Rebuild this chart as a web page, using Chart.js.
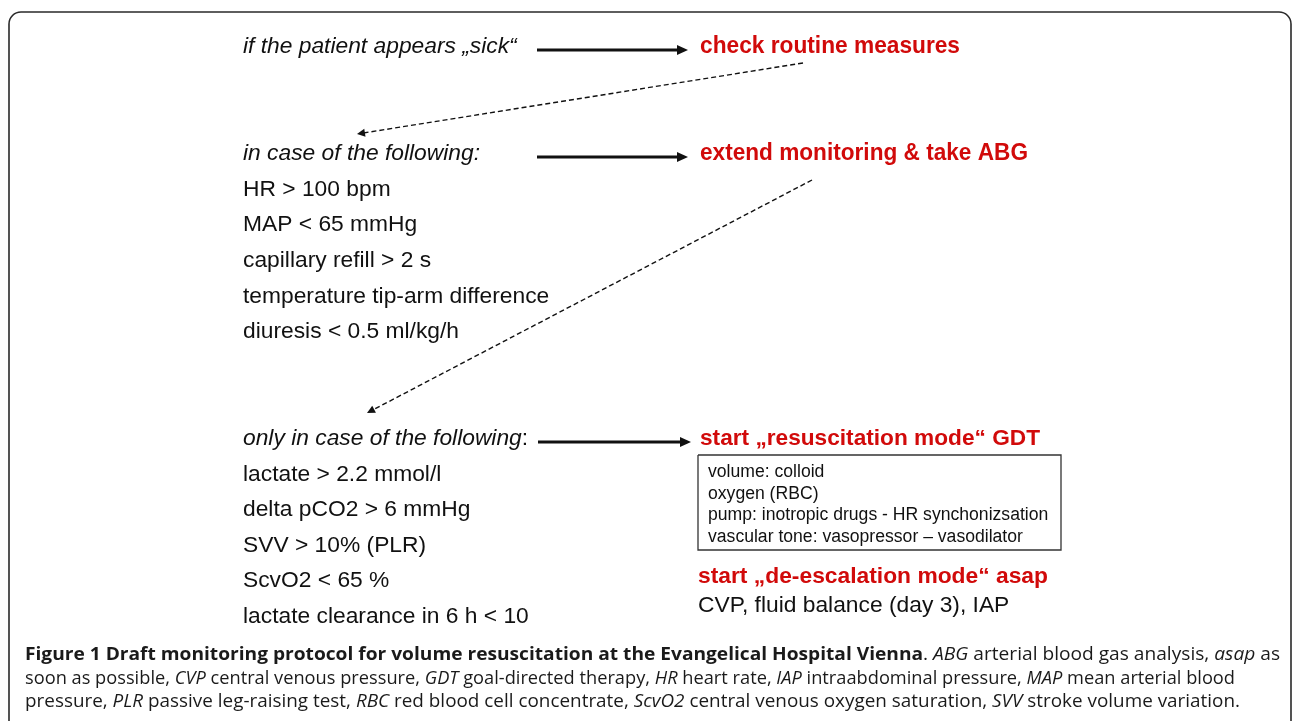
<!DOCTYPE html>
<html>
<head>
<meta charset="utf-8">
<script src="https://cdn.jsdelivr.net/npm/chart.js@4.4.1/dist/chart.umd.min.js"></script>
<style>
  html, body { margin: 0; padding: 0; background: #ffffff; }
  #wrap { width: 1292px; height: 721px; }
</style>
</head>
<body>
<div id="wrap"><canvas id="c" width="1292" height="721"></canvas></div>
<script>
// ---------------- content ----------------
const triggerLabels = ['if the patient appears \u201Esick\u201C', 'in case of the following:', 'only in case of the following'];
const actionLabels = ['check routine measures', 'extend monitoring & take ABG', 'start \u201Eresuscitation mode\u201C GDT'];
const clinicalSigns = ['HR > 100 bpm', 'MAP < 65 mmHg', 'capillary refill > 2 s', 'temperature tip-arm difference', 'diuresis < 0.5 ml/kg/h'];
const laboratorySigns = ['lactate > 2.2 mmol/l', 'delta pCO2 > 6 mmHg', 'SVV > 10% (PLR)', 'ScvO2 < 65 %', 'lactate clearance in 6 h < 10'];
const gdtTargets = ['volume: colloid', 'oxygen (RBC)', 'pump: inotropic drugs - HR synchonizsation', 'vascular tone: vasopressor \u2013 vasodilator'];
const deescalationLabel = 'start \u201Ede-escalation mode\u201C asap';
const deescalationTargets = 'CVP, fluid balance (day 3), IAP';
const captionLine1 = [['b', 'Figure 1 Draft monitoring protocol for volume resuscitation at the Evangelical Hospital Vienna'], ['r', '. '], ['i', 'ABG'], ['r', ' arterial blood gas analysis, '], ['i', 'asap'], ['r', ' as']];
const captionLine2 = [['r', 'soon as possible, '], ['i', 'CVP'], ['r', ' central venous pressure, '], ['i', 'GDT'], ['r', ' goal-directed therapy, '], ['i', 'HR'], ['r', ' heart rate, '], ['i', 'IAP'], ['r', ' intraabdominal pressure, '], ['i', 'MAP'], ['r', ' mean arterial blood']];
const captionLine3 = [['r', 'pressure, '], ['i', 'PLR'], ['r', ' passive leg-raising test, '], ['i', 'RBC'], ['r', ' red blood cell concentrate, '], ['i', 'ScvO2'], ['r', ' central venous oxygen saturation, '], ['i', 'SVV'], ['r', ' stroke volume variation.']];

// ---------------- layout (page units = pixels of the 1292 x 721 figure) ----------------
const L = {
  leftX: 243, rightX: 700,
  rowBaselines: [53, 160, 445],
  clinicalBaselines: [196, 231, 267, 303, 338],
  labBaselines: [481, 516, 552, 587, 623],
  actionWidths: [260, 328, 340],
  actionSizes: [24, 24, 22],
  solidArrows: [[537, 50, 688, 50], [537, 157, 688, 157], [538, 442, 691, 442]],
  dashedArrows: [[803, 63, 357, 134], [812, 180, 367, 413]],
  box: [698, 455, 1061, 550],
  boxTextX: 708, boxBaselines: [477, 498.5, 520, 541.5],
  deescX: 698, deescBaseline: 583, deescWidth: 350,
  cvpBaseline: 612,
  captionX: 25, captionBaselines: [660, 683.5, 707], captionEnds: [1280, 1235, 1240],
  frame: [9, 12, 1291, 760, 12]
};
const MAIN = '"Liberation Sans", Arial, sans-serif';
const CAP = '"Open Sans", "Noto Sans", sans-serif';
const RED = '#d10a0a';
const INK = '#111111';

function line(x1, y1, x2, y2, dashed) {
  return { type: 'line', data: [{ x: x1, y: y1 }, { x: x2, y: y2 }], borderColor: INK,
    borderWidth: dashed ? 1.4 : 3, borderDash: dashed ? [5, 3] : [], pointRadius: 0, fill: false, tension: 0 };
}
function shorten(a, len) {
  const dx = a[2] - a[0], dy = a[3] - a[1], d = Math.hypot(dx, dy);
  return [a[2] - dx / d * len, a[3] - dy / d * len];
}
const datasets = [];
L.solidArrows.forEach(a => { const e = shorten(a, 8); datasets.push(line(a[0], a[1], e[0], e[1], false)); });
L.dashedArrows.forEach(a => { const e = shorten(a, 5); datasets.push(line(a[0], a[1], e[0], e[1], true)); });
const b = L.box;
datasets.push({ type: 'line', data: [{x:b[0],y:b[1]},{x:b[2],y:b[1]},{x:b[2],y:b[3]},{x:b[0],y:b[3]},{x:b[0],y:b[1]}],
  borderColor: '#333', borderWidth: 1.3, pointRadius: 0, fill: false, tension: 0 });

const flowPlugin = {
  id: 'flow',
  beforeDraw(chart) {
    const ctx = chart.ctx;
    ctx.save(); ctx.fillStyle = '#fff'; ctx.fillRect(0, 0, chart.width, chart.height); ctx.restore();
    const X = v => chart.scales.x.getPixelForValue(v), Y = v => chart.scales.y.getPixelForValue(v);
    const f = L.frame;
    ctx.save();
    ctx.strokeStyle = '#2a2a2a'; ctx.lineWidth = 1.6;
    ctx.beginPath();
    ctx.roundRect(X(f[0]), Y(f[1]), X(f[2]) - X(f[0]), Y(f[3]) - Y(f[1]), f[4]);
    ctx.stroke();
    ctx.restore();
  },
  afterDatasetsDraw(chart) {
    const ctx = chart.ctx;
    const X = v => chart.scales.x.getPixelForValue(v), Y = v => chart.scales.y.getPixelForValue(v);
    function head(a, len, half) {
      const tx = X(a[2]), ty = Y(a[3]), sx = X(a[0]), sy = Y(a[1]);
      const dx = tx - sx, dy = ty - sy, d = Math.hypot(dx, dy), ux = dx / d, uy = dy / d;
      const bx = tx - ux * len, by = ty - uy * len;
      ctx.beginPath();
      ctx.moveTo(tx, ty);
      ctx.lineTo(bx - uy * half, by + ux * half);
      ctx.lineTo(bx + uy * half, by - ux * half);
      ctx.closePath(); ctx.fillStyle = INK; ctx.fill();
    }
    L.solidArrows.forEach(a => head(a, 11, 5));
    L.dashedArrows.forEach(a => head(a, 8, 4));

    function text(str, x, y, font, color, fitW) {
      ctx.save();
      ctx.font = font; ctx.fillStyle = color; ctx.textBaseline = 'alphabetic'; ctx.textAlign = 'left';
      ctx.translate(X(x), Y(y));
      if (fitW) { const w = ctx.measureText(str).width; ctx.scale(fitW / w, 1); }
      ctx.fillText(str, 0, 0);
      ctx.restore();
    }
    // left column
    text(triggerLabels[0], L.leftX, L.rowBaselines[0], 'italic 22.8px ' + MAIN, INK);
    text(triggerLabels[1], L.leftX, L.rowBaselines[1], 'italic 22.8px ' + MAIN, INK);
    ctx.save(); ctx.font = 'italic 22.8px ' + MAIN;
    const w3 = ctx.measureText(triggerLabels[2]).width; ctx.restore();
    text(triggerLabels[2], L.leftX, L.rowBaselines[2], 'italic 22.8px ' + MAIN, INK);
    text(':', L.leftX + w3, L.rowBaselines[2], '22.8px ' + MAIN, INK);
    clinicalSigns.forEach((s, i) => text(s, L.leftX, L.clinicalBaselines[i], '22.8px ' + MAIN, INK));
    laboratorySigns.forEach((s, i) => text(s, L.leftX, L.labBaselines[i], '22.8px ' + MAIN, INK));
    // right column
    actionLabels.forEach((s, i) => text(s, L.rightX, L.rowBaselines[i], 'bold ' + L.actionSizes[i] + 'px ' + MAIN, RED, L.actionWidths[i]));
    gdtTargets.forEach((s, i) => text(s, L.boxTextX, L.boxBaselines[i], '17.6px ' + MAIN, INK));
    text(deescalationLabel, L.deescX, L.deescBaseline, 'bold 22px ' + MAIN, RED, L.deescWidth);
    text(deescalationTargets, L.deescX, L.cvpBaseline, '22.8px ' + MAIN, INK);

    // caption
    const capFont = { b: 'bold 18.5px ' + CAP, r: '18.5px ' + CAP, i: 'italic 18.5px ' + CAP };
    [captionLine1, captionLine2, captionLine3].forEach((segs, li) => {
      ctx.save();
      let total = 0;
      segs.forEach(s => { ctx.font = capFont[s[0]]; total += ctx.measureText(s[1]).width; });
      const target = L.captionEnds[li] - L.captionX;
      ctx.translate(X(L.captionX), Y(L.captionBaselines[li]));
      ctx.scale(target / total, 1);
      ctx.fillStyle = '#1a1a1a'; ctx.textBaseline = 'alphabetic';
      let cx = 0;
      segs.forEach(s => { ctx.font = capFont[s[0]]; ctx.fillText(s[1], cx, 0); cx += ctx.measureText(s[1]).width; });
      ctx.restore();
    });
  }
};

new Chart(document.getElementById('c'), {
  type: 'scatter',
  data: { datasets },
  options: {
    responsive: false, maintainAspectRatio: false, animation: false,
    layout: { padding: 0 },
    scales: {
      x: { type: 'linear', min: 0, max: 1292, display: false },
      y: { type: 'linear', min: 0, max: 721, reverse: true, display: false }
    },
    plugins: { legend: { display: false }, tooltip: { enabled: false } },
    elements: { line: { borderCapStyle: 'butt' } }
  },
  plugins: [flowPlugin]
});
</script>
</body>
</html>
